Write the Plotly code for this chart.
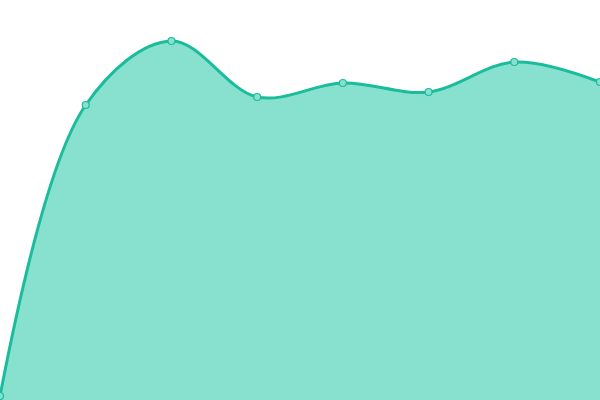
import plotly.graph_objs as go

# data
x_values = [0, 1, 2, 3, 4, 5, 6, 7]
y_values = [4, 295, 359, 303, 317, 308, 338, 318]

trace = go.Scatter(
    x=x_values,
    y=y_values,
    mode='lines+markers',
    fill='tozeroy',
    fillcolor='#88e0cf',
    line={'color': '#1abc9c', 'width': 3, 'shape': 'spline', 'smoothing': 1},
    marker={'size': 7, 'color': '#88e0cf',
            'line': {'color': '#1abc9c', 'width': 1.2}},
    cliponaxis=False,
    hoverinfo='skip',
    showlegend=False)

layout = go.Layout(
    width=600,
    height=400,
    margin={'l': 0, 'r': 0, 't': 0, 'b': 0},
    paper_bgcolor='white',
    plot_bgcolor='white',
    xaxis={'range': [0, 7], 'visible': False, 'fixedrange': True},
    yaxis={'range': [0, 400], 'visible': False, 'fixedrange': True},
)

fig = go.Figure(data=[trace], layout=layout)
# page body has a default 8px margin, drop it so the plot sits at the corner
fig.write_html("out.html",
               config={'displayModeBar': False, 'staticPlot': True},
               post_script="document.body.style.margin='0';"
                           "document.body.style.overflow='hidden';")
